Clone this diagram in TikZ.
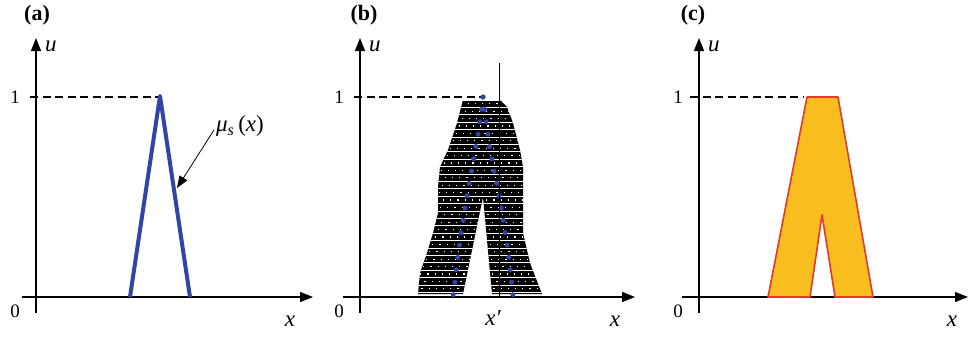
\documentclass[tikz,border=0pt]{standalone}
\usepackage{fontspec}
\setmainfont{Liberation Serif}
\usetikzlibrary{arrows.meta,positioning,calc}
\definecolor{FuzBlue}{HTML}{3344A6}
\definecolor{FuzFill}{HTML}{F8BE20}
\definecolor{FuzRed}{HTML}{E43A2C}
\begin{document}
\begin{tikzpicture}[x=1pt,y=-1pt,
  axis/.style={line width=1.2pt,-{Triangle[length=13pt,width=10pt]}},
  guide/.style={line width=1.2pt,dash pattern=on 8pt off 4.5pt},
  lbl/.style={font=\fontsize{23}{25}\selectfont\itshape,inner sep=0pt},
  num/.style={font=\fontsize{19}{21}\selectfont,inner sep=0pt},
  tag/.style={font=\fontsize{22}{24}\selectfont\bfseries,inner sep=0pt},
  memb/.style={draw=FuzBlue,line width=4pt,line join=round}
]
\useasboundingbox (0,0) rectangle (968,338);
\foreach \p/\ox/\xl/\xr/\tx in {a/36/22/313/37,b/360/343/635/364,c/699/682/968/693}{
  \draw[axis] (\xl,297) -- (\xr,297);
  \draw[axis] (\ox,313) -- (\ox,38);
  \node[tag] (tag\p) at (\tx,15) {(\p)};
  \node[lbl,right=9pt of {(\ox,46)}] (u\p) {u};
  \node[num,left=16pt of {(\ox,97)}] (one\p) {1};
  \node[num,left=16pt of {(\ox,311)}] (zero\p) {0};
}
\node[lbl] (xa) at (290,321) {x};
\node[lbl] (xb) at (615,321) {x};
\node[lbl] (xc) at (952,321) {x};
% (a)
\draw[guide] (30,97) -- (160,97);
\draw[memb] (130,297) -- (160,96) -- (190,297);
\node[lbl,font=\fontsize{23}{25}\selectfont] (mu) at (240,126) {\textit{μ}\textsubscript{\textit{s}}\,(\textit{x})};
\coordinate (mutip) at (177,188);
\draw[line width=0.8pt,-{Triangle[length=12pt,width=9pt]}] (mu.west) ++(-2,4) -- (mutip);
% (b)
\draw[guide] (354,97) -- (483,97);
\path[fill=black] (463,100) -- (457,123) -- (448,150) -- (440,167) -- (438,187)
  -- (438,213) -- (433,233) -- (427,253) -- (420,273) -- (418,294) -- (463,294)
  -- (483,197) -- (492,294) -- (542,294) -- (530,263) -- (523,233) -- (523,187)
  -- (523,167) -- (520,150) -- (513,123) -- (507,107) -- (500,100) -- cycle;
\begin{scope}
  \clip (463,100) -- (457,123) -- (448,150) -- (440,167) -- (438,187)
  -- (438,213) -- (433,233) -- (427,253) -- (420,273) -- (418,294) -- (463,294)
  -- (483,197) -- (492,294) -- (542,294) -- (530,263) -- (523,233) -- (523,187)
  -- (523,167) -- (520,150) -- (513,123) -- (507,107) -- (500,100) -- cycle;
  \foreach \k in {0,...,26}{
    \draw[white,line width=1pt] (410,100+7.4*\k) -- (550,100+7.4*\k);
    \draw[white,line width=1.2pt,dash pattern=on 1.2pt off 6pt,dash phase=3*\k]
      (410,103.7+7.4*\k) -- (550,103.7+7.4*\k);
  }
\end{scope}
\draw[FuzBlue,line width=5pt,line cap=round,dash pattern=on 0pt off 12.5pt]
  (483,97) -- (478,135) -- (468,190) -- (460,240) -- (453,296);
\draw[FuzBlue,line width=5pt,line cap=round,dash pattern=on 0pt off 12.5pt]
  (483,97) -- (490,150) -- (500,200) -- (508,250) -- (513,296);
\draw[line width=1pt] (499,63) -- (499,297);
\node[lbl] (xp) at (493,318) {x′};
% (c)
\draw[guide] (690,97) -- (803,97);
\draw[fill=FuzFill,draw=FuzRed,line width=1.6pt,line join=round]
  (768,297) -- (807,97) -- (838,97) -- (873,297) -- (835,297) -- (822,215) -- (810,297) -- cycle;
\end{tikzpicture}
\end{document}
